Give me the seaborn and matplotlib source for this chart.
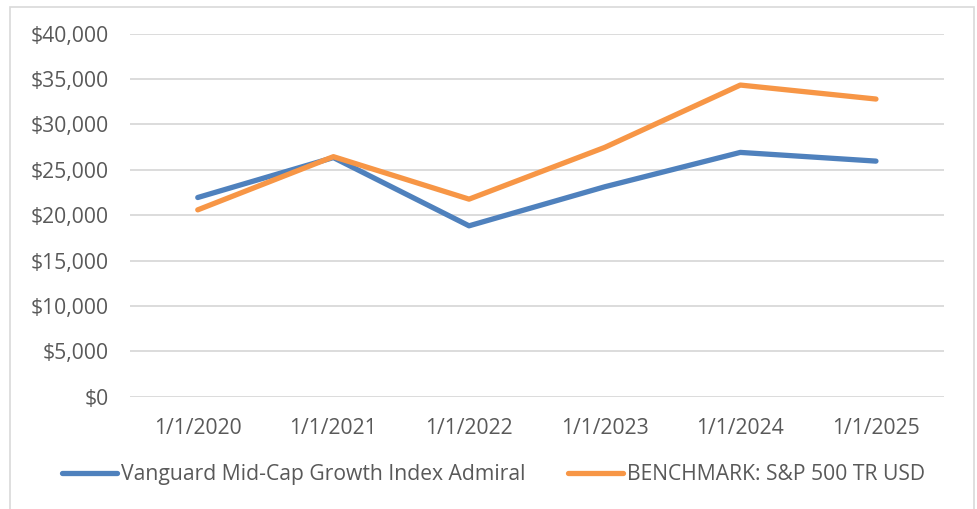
import pandas as pd
import matplotlib
matplotlib.use("Agg")
import matplotlib.pyplot as plt
import seaborn as sns
from matplotlib.patches import Rectangle
from matplotlib.ticker import FuncFormatter

# Data
dates = ["1/1/2020", "1/1/2021", "1/1/2022", "1/1/2023", "1/1/2024", "1/1/2025"]
fund_values = [21950, 26350, 18830, 23130, 26920, 25960]
benchmark_values = [20590, 26450, 21770, 27470, 34340, 32800]
series_names = ["Vanguard Mid-Cap Growth Index Admiral", "BENCHMARK: S&P 500 TR USD"]
colors = ["#4F81BD", "#F79646"]

df = pd.DataFrame({
    "date": dates * 2,
    "value": fund_values + benchmark_values,
    "series": [series_names[0]] * len(dates) + [series_names[1]] * len(dates),
})

sns.set_style("white")
plt.rcParams["font.family"] = ["Open Sans", "DejaVu Sans"]
text_color = "#595959"
fs = 15.2

fig = plt.figure(figsize=(9.77, 5.09), dpi=100)
ax = fig.add_axes([0.133, 0.2206, 0.833, 0.7132])

sns.lineplot(data=df, x="date", y="value", hue="series", palette=colors,
             linewidth=3.8, sort=False, ax=ax, legend=False)
for line in ax.lines:
    line.set_solid_capstyle("round")
    line.set_solid_joinstyle("round")

ax.set_xlim(-0.5, len(dates) - 0.5)
ax.set_ylim(0, 40000)
ax.set_yticks(range(0, 40001, 5000))
ax.yaxis.set_major_formatter(FuncFormatter(lambda v, p: f"${v:,.0f}"))
ax.grid(axis="y", color="#D9D9D9", linewidth=1.3)
ax.set_axisbelow(True)
ax.set_xlabel("")
ax.set_ylabel("")
ax.tick_params(axis="both", length=0, labelsize=fs, labelcolor=text_color)
ax.tick_params(axis="x", pad=15.5)
ax.tick_params(axis="y", pad=15)
sns.despine(ax=ax, left=True, bottom=True)

handles = [plt.Line2D([0], [0], color=c, linewidth=3.8) for c in colors]
fig.legend(handles, series_names, loc="center", bbox_to_anchor=(0.505, 0.067),
           ncol=2, frameon=False, fontsize=fs, handlelength=2.6,
           handletextpad=0.2, columnspacing=2.0, labelcolor=text_color)

# light frame around the whole chart
fig.patches.append(Rectangle((0.010, -0.05), 0.987, 1.036, transform=fig.transFigure,
                             fill=False, edgecolor="#D9D9D9", linewidth=1.2))

fig.savefig("out.png", dpi=100)
